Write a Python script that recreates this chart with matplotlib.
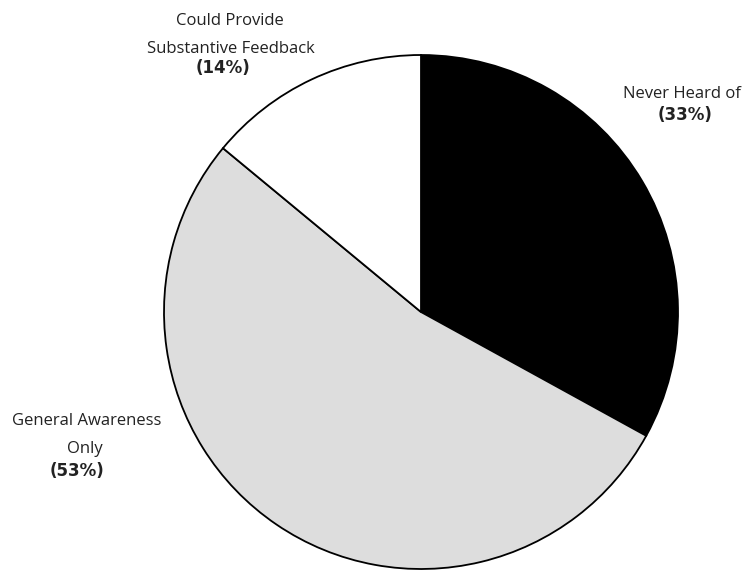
import matplotlib
matplotlib.use("Agg")
import matplotlib.pyplot as plt

labels = ["Never Heard of", "General Awareness Only", "Could Provide Substantive Feedback"]
shares = [33, 53, 14]
colors = ["#000000", "#dddddd", "#ffffff"]

fig = plt.figure(figsize=(7.46, 5.71), dpi=100)
# pie centre at (421, 312) px, radius about 257 px
cx, cy, r_px = 421, 312, 257
ax = fig.add_axes([(cx - r_px) / 746, (571 - cy - r_px) / 571, 2 * r_px / 746, 2 * r_px / 571])
ax.pie(shares, colors=colors, startangle=90, counterclock=False, radius=1,
       wedgeprops={'edgecolor': 'black', 'linewidth': 1.3})
ax.set_xlim(-1, 1)
ax.set_ylim(-1, 1)
ax.set_aspect('equal')
ax.axis('off')


def px(x, y):
    return (x - cx) / r_px, (cy - y) / r_px


# label lines: (text, centre x px, baseline y px, bold)
label_lines = [
    ("Never Heard of", 682, 98, False),
    ("(" + str(shares[0]) + "%)", 685, 120, True),
    ("General Awareness", 87, 425, False),
    ("Only", 85, 453, False),
    ("(" + str(shares[1]) + "%)", 77, 476, True),
    ("Could Provide", 230, 25, False),
    ("Substantive Feedback", 231, 53, False),
    ("(" + str(shares[2]) + "%)", 223, 73, True),
]
for txt, x, y, bold in label_lines:
    xx, yy = px(x, y)
    if bold:
        ax.text(xx, yy, txt, ha='center', va='baseline', fontsize=12,
                family='DejaVu Sans', fontweight='bold', color='#222222', clip_on=False)
    else:
        ax.text(xx, yy, txt, ha='center', va='baseline', fontsize=12,
                family='Open Sans', color='#222222', clip_on=False)

fig.savefig("out.png", dpi=100)
